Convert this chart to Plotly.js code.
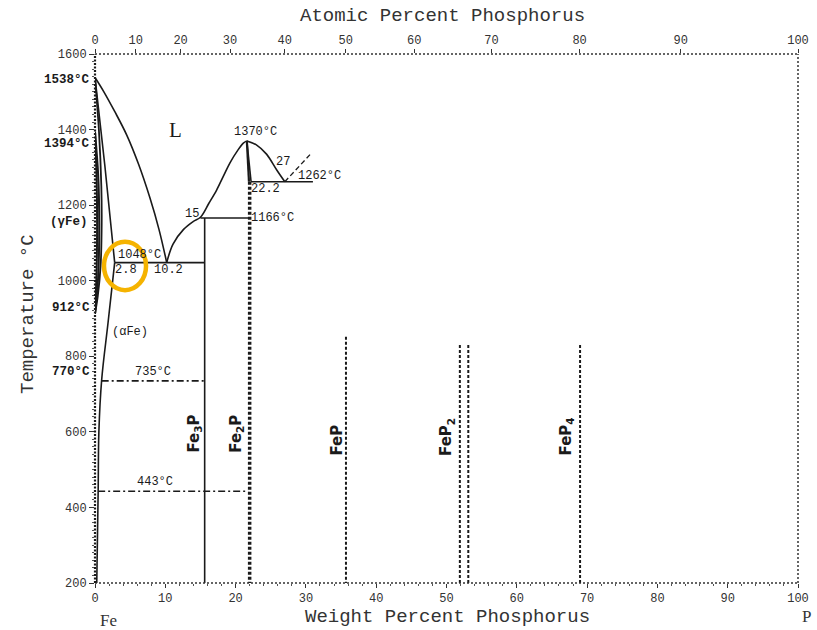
<!DOCTYPE html>
<html>
<head>
<meta charset="utf-8">
<script src="https://cdn.plot.ly/plotly-3.0.1.min.js"></script>
<style>html,body{margin:0;padding:0;background:#fff}#chart{width:817px;height:630px}</style>
</head>
<body>
<div id="chart"></div>
<script>
// ---------- data (weight % P, temperature °C) ----------
const tempTicks = [200, 400, 600, 800, 1000, 1200, 1400, 1600];
const wtTicks = [0, 10, 20, 30, 40, 50, 60, 70, 80, 90, 100];
const atTickLabels = [0, 10, 20, 30, 40, 50, 60, 70, 80, 90, 100];

const liqFeWt = [0, 1.2, 2.8, 4.5, 6.2, 7.8, 9.1, 10.2];
const liqFeT  = [1538, 1502, 1448, 1386, 1308, 1220, 1136, 1048];

const solidusWt = [0, 1.4, 2.8];
const solidusT  = [1538, 1305, 1048];

const outerLeftWt = [0, 0.55, 0.9, 0.95, 0.8, 0.4, 0];
const outerLeftT  = [1538, 1400, 1250, 1150, 1040, 960, 912];

const gammaOuterWt = [0, 0.45, 0.6, 0.45, 0];
const gammaOuterT  = [1394, 1280, 1150, 1010, 912];
const gammaInnerWt = [0, 0.22, 0.3, 0.22, 0];
const gammaInnerT  = [1394, 1280, 1150, 1020, 912];

const alphaSolvusWt = [2.8, 1.85, 0.95, 0.55, 0.45, 0.25];
const alphaSolvusT  = [1048, 888, 738, 600, 443, 200];

const eut1048Wt = [2.8, 15.6];
const eut1048T  = [1048, 1048];

const fe3pWt = [15.6, 15.6];
const fe3pT  = [1166, 200];

const per1166Wt = [15.0, 21.8];
const per1166T  = [1166, 1166];

const liqMidWt = [10.2, 11.1, 12.6, 14.0, 15.0, 16.2, 17.3, 18.3, 19.2, 20.3, 21.1, 21.6];
const liqMidT  = [1048, 1097, 1136, 1157, 1168, 1205, 1240, 1278, 1312, 1345, 1364, 1370];

const liqRightWt = [21.6, 23.0, 24.4, 25.85, 27.0];
const liqRightT  = [1370, 1359, 1335, 1293, 1262];

const liqDashWt = [27.0, 30.8];
const liqDashT  = [1262, 1338];

const eut1262Wt = [22.2, 31.0];
const eut1262T  = [1262, 1262];

const fe2pTopLWt = [21.6, 21.9];
const fe2pTopLT  = [1370, 1262];
const fe2pTopRWt = [21.6, 22.2];
const fe2pTopRT  = [1370, 1262];
const fe2pWt = [22.0, 22.0];
const fe2pT  = [1262, 200];

const line735Wt = [0.95, 15.6];
const line735T  = [735, 735];
const line443Wt = [0.45, 21.8];
const line443T  = [443, 443];

const fepWt  = [35.7, 35.7];
const fepT   = [852, 200];
const fep2aWt = [51.9, 51.9];
const fep2bWt = [53.1, 53.1];
const fep2T   = [830, 200];
const fep4Wt = [69.0, 69.0];
const fep4T  = [830, 200];

// atomic % -> weight % for the top axis tick positions
const M_P = 30.974, M_FE = 55.845;
const atToWt = a => 100 * a * M_P / (a * M_P + (100 - a) * M_FE);
const atTickPos = atTickLabels.map(atToWt);

// ---------- styling ----------
const FONT = 'Liberation Mono, DejaVu Sans Mono, monospace';
const INK = '#1a1a1a';
const solid = {color: INK, width: 1.6};
const curve = {color: INK, width: 1.6, shape: 'spline', smoothing: 1};

function tr(x, y, line, xaxis) {
  return {x: x, y: y, type: 'scatter', mode: 'lines', line: line,
          hoverinfo: 'skip', showlegend: false, xaxis: xaxis || 'x', yaxis: 'y'};
}

const traces = [
  tr(liqFeWt, liqFeT, curve),
  tr(solidusWt, solidusT, curve),
  tr(outerLeftWt, outerLeftT, {color: INK, width: 1.8, shape: 'spline', smoothing: 0.8}),
  tr(gammaOuterWt, gammaOuterT, {color: INK, width: 2, shape: 'spline', smoothing: 0.8}),
  tr(gammaInnerWt, gammaInnerT, {color: INK, width: 2, shape: 'spline', smoothing: 0.8}),
  tr(alphaSolvusWt, alphaSolvusT, curve),
  tr(eut1048Wt, eut1048T, solid),
  tr(fe3pWt, fe3pT, solid),
  tr(per1166Wt, per1166T, solid),
  tr(liqMidWt, liqMidT, curve),
  tr(liqRightWt, liqRightT, curve),
  tr(liqDashWt, liqDashT, {color: INK, width: 1.3, dash: '5px,3px'}),
  tr(eut1262Wt, eut1262T, solid),
  tr(fe2pTopLWt, fe2pTopLT, {color: INK, width: 2.2}),
  tr(fe2pTopRWt, fe2pTopRT, solid),
  tr(fe2pWt, fe2pT, {color: INK, width: 3.5, dash: '3px,2px'}),
  tr(line735Wt, line735T, {color: INK, width: 1.6, dash: '7px,3px,2px,3px'}),
  tr(line443Wt, line443T, {color: INK, width: 1.6, dash: '7px,3px,2px,3px'}),
  tr(fepWt, fepT, {color: INK, width: 2, dash: '3px,2px'}),
  tr(fep2aWt, fep2T, {color: INK, width: 2, dash: '3px,2px'}),
  tr(fep2bWt, fep2T, {color: INK, width: 2, dash: '3px,2px'}),
  tr(fep4Wt, fep4T, {color: INK, width: 2, dash: '3px,2px'}),
  // carrier for the top (atomic %) axis
  {x: [0, 100], y: [200, 200], type: 'scatter', mode: 'lines', line: {width: 0},
   opacity: 0, hoverinfo: 'skip', showlegend: false, xaxis: 'x2', yaxis: 'y'}
];

function ann(text, x, y, opts) {
  return Object.assign({text: text, x: x, y: y, xref: 'x', yref: 'y', showarrow: false,
    xanchor: 'center', yanchor: 'middle',
    font: {family: FONT, size: 12, color: INK}}, opts || {});
}
function paperAnn(text, x, y, opts) {
  return Object.assign({text: text, x: x, y: y, xref: 'paper', yref: 'paper', showarrow: false,
    xanchor: 'center', yanchor: 'middle',
    font: {family: FONT, size: 19, color: '#333'}}, opts || {});
}
const leftFont = {family: FONT, size: 12.5, color: INK, weight: 'bold'};
const cmpFont = {family: 'DejaVu Sans, sans-serif', size: 15, color: INK, weight: 'bold'};
const serifBig = {family: 'Liberation Serif, serif', size: 17, color: '#333'};

const annotations = [
  paperAnn('Atomic Percent Phosphorus', 0.495, 1.0718),
  paperAnn('Weight Percent Phosphorus', 0.502, -0.0643),
  paperAnn('Temperature °C', -0.0953, 0.5085, {textangle: -90}),
  paperAnn('Fe', 0.0185, -0.070, {font: serifBig}),
  paperAnn('P', 1.012, -0.064, {font: serifBig}),

  ann('1538°C', 0, 1530, {xanchor: 'right', xshift: -3, font: leftFont}),
  ann('1394°C', 0, 1362, {xanchor: 'right', xshift: -3, font: leftFont}),
  ann('(γFe)', 0, 1156, {xanchor: 'right', xshift: -5, font: leftFont}),
  ann('912°C', 0, 928, {xanchor: 'right', xshift: -3, font: leftFont}),
  ann('770°C', 0, 759, {xanchor: 'right', xshift: -3, font: leftFont}),

  ann('L', 11.4, 1399, {font: {family: 'Liberation Serif, serif', size: 21, color: INK}}),
  ann('1370°C', 22.8, 1394),
  ann('27', 26.7, 1314),
  ann('1262°C', 31.9, 1277),
  ann('22.2', 24.3, 1243),
  ann('15', 13.8, 1177),
  ann('1166°C', 25.2, 1166),
  ann('1048°C', 6.4, 1068),
  ann('2.8', 4.4, 1029),
  ann('10.2', 10.4, 1029),
  ann('(αFe)', 5.0, 865),
  ann('735°C', 8.25, 759),
  ann('443°C', 8.5, 468),

  ann('Fe<sub>3</sub>P', 14.2, 595, {textangle: -90, font: cmpFont}),
  ann('Fe<sub>2</sub>P', 20.2, 595, {textangle: -90, font: cmpFont}),
  ann('FeP', 34.4, 579, {textangle: -90, font: cmpFont}),
  ann('FeP<sub>2</sub>', 50.1, 587, {textangle: -90, font: cmpFont}),
  ann('FeP<sub>4</sub>', 67.1, 587, {textangle: -90, font: cmpFont})
];

const frame = {color: '#333', width: 1.5, dash: '2px,2px'};
const shapes = [
  {type: 'line', xref: 'paper', yref: 'paper', x0: 0, x1: 1, y0: 1, y1: 1, line: frame},
  {type: 'line', xref: 'paper', yref: 'paper', x0: 0, x1: 1, y0: 0, y1: 0, line: frame},
  {type: 'line', xref: 'paper', yref: 'paper', x0: 1, x1: 1, y0: 0, y1: 1, line: frame},
  {type: 'line', xref: 'paper', yref: 'paper', x0: 0, x1: 0, y0: 0, y1: 1,
   line: {color: INK, width: 2.2, dash: '2px,1.5px'}},
  // highlight ring
  {type: 'circle', xref: 'x', yref: 'y', x0: 1.28, x1: 7.26, y0: 975, y1: 1103,
   line: {color: '#F5B300', width: 4.5}}
];

const tickFont = {family: FONT, size: 12, color: '#333'};
const layout = {
  width: 817, height: 630,
  margin: {l: 95, r: 19, t: 54, b: 47, pad: 0},
  paper_bgcolor: '#fff', plot_bgcolor: '#fff',
  showlegend: false,
  xaxis: {range: [0, 100], tickvals: wtTicks, ticktext: wtTicks.map(String),
          showgrid: false, zeroline: false, showline: false,
          ticks: 'outside', ticklen: 4, tickwidth: 1, tickcolor: '#333',
          minor: {dtick: 2, ticks: 'outside', ticklen: 2, tickcolor: '#555', showgrid: false},
          tickfont: tickFont, fixedrange: true},
  xaxis2: {range: [0, 100], overlaying: 'x', side: 'top', anchor: 'y',
           tickvals: atTickPos, ticktext: atTickLabels.map(String),
           showgrid: false, zeroline: false, showline: false,
           ticks: 'outside', ticklen: 4, tickwidth: 1, tickcolor: '#333',
           tickfont: tickFont, fixedrange: true},
  yaxis: {range: [200, 1600], tickvals: tempTicks, ticktext: tempTicks.map(String),
          showgrid: false, zeroline: false, showline: false,
          ticks: 'outside', ticklen: 5, tickwidth: 1, tickcolor: '#333',
          minor: {dtick: 20, ticks: 'outside', ticklen: 2, tickcolor: '#555', showgrid: false},
          tickfont: tickFont, fixedrange: true},
  annotations: annotations,
  shapes: shapes
};

Plotly.newPlot('chart', traces, layout, {displayModeBar: false, staticPlot: true});
</script>
</body>
</html>
